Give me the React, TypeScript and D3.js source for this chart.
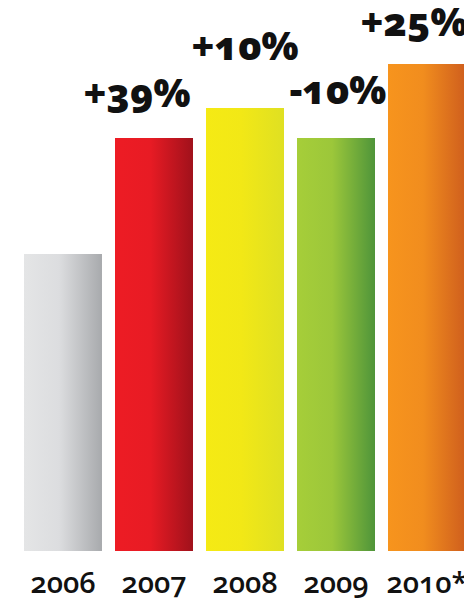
import React from "react";
import * as d3 from "d3";

const years = ["2006", "2007", "2008", "2009", "2010*"];
const values = [297, 413, 443, 413, 487];
const changeLabels = ["", "+39%", "+10%", "-10%", "+25%"];
const colorsLeft = ["#e4e5e6", "#ed1c24", "#f5ea14", "#a6ce39", "#f7941d"];
const colorsMid = ["#dcdddf", "#e81b24", "#f2e816", "#9cc73a", "#f18d1e"];
const colorsRight = ["#a8aaad", "#a0111b", "#dfe022", "#4f953a", "#cf5e1d"];

// layout nudges for the change labels (dx from bar centre, gap above bar top)
const labelDx = [0, -17, 0, 2, -13];
const labelGap = [0, 31, 48, 34, 28];

const W = 464;
const H = 600;

export default function App() {
  const x = d3
    .scaleBand<string>()
    .domain(years)
    .range([24, 466])
    .paddingInner(0.143)
    .paddingOuter(0);
  const y = d3.scaleLinear().domain([0, 500]).range([551, 51]);
  const bw = x.bandwidth();

  return (
    <svg
      width={W}
      height={H}
      style={{ position: "absolute", left: 0, top: 0, background: "#fff" }}
    >
      <defs>
        {years.map((yr, i) => (
          <linearGradient key={yr} id={`g${i}`} x1="0" x2="1" y1="0" y2="0">
            <stop offset="0" stopColor={colorsLeft[i]} />
            <stop offset="0.45" stopColor={colorsMid[i]} />
            <stop offset="1" stopColor={colorsRight[i]} />
          </linearGradient>
        ))}
      </defs>
      {years.map((yr, i) => (
        <rect
          key={yr}
          x={x(yr)}
          y={y(values[i])}
          width={bw}
          height={y(0) - y(values[i])}
          fill={`url(#g${i})`}
        />
      ))}
      {years.map((yr, i) =>
        changeLabels[i] ? (
          <text
            key={"l" + yr}
            x={(x(yr) as number) + bw / 2 + labelDx[i]}
            y={y(values[i]) - labelGap[i]}
            textAnchor="middle"
            fontFamily="'Open Sans', 'Noto Sans', sans-serif"
            fontWeight={800}
            fontSize={39}
            style={{ fontFeatureSettings: "'onum' 1" }}
            fill="#111"
          >
            {changeLabels[i]}
          </text>
        ) : null
      )}
      {years.map((yr) => (
        <text
          key={"y" + yr}
          x={(x(yr) as number) + bw / 2}
          y={593}
          textAnchor="middle"
          fontFamily="'Open Sans', 'Noto Sans', sans-serif"
          fontSize={29}
          fontWeight={600}
          style={{ fontFeatureSettings: "'onum' 1" }}
          fill="#111"
        >
          {yr}
        </text>
      ))}
    </svg>
  );
}
